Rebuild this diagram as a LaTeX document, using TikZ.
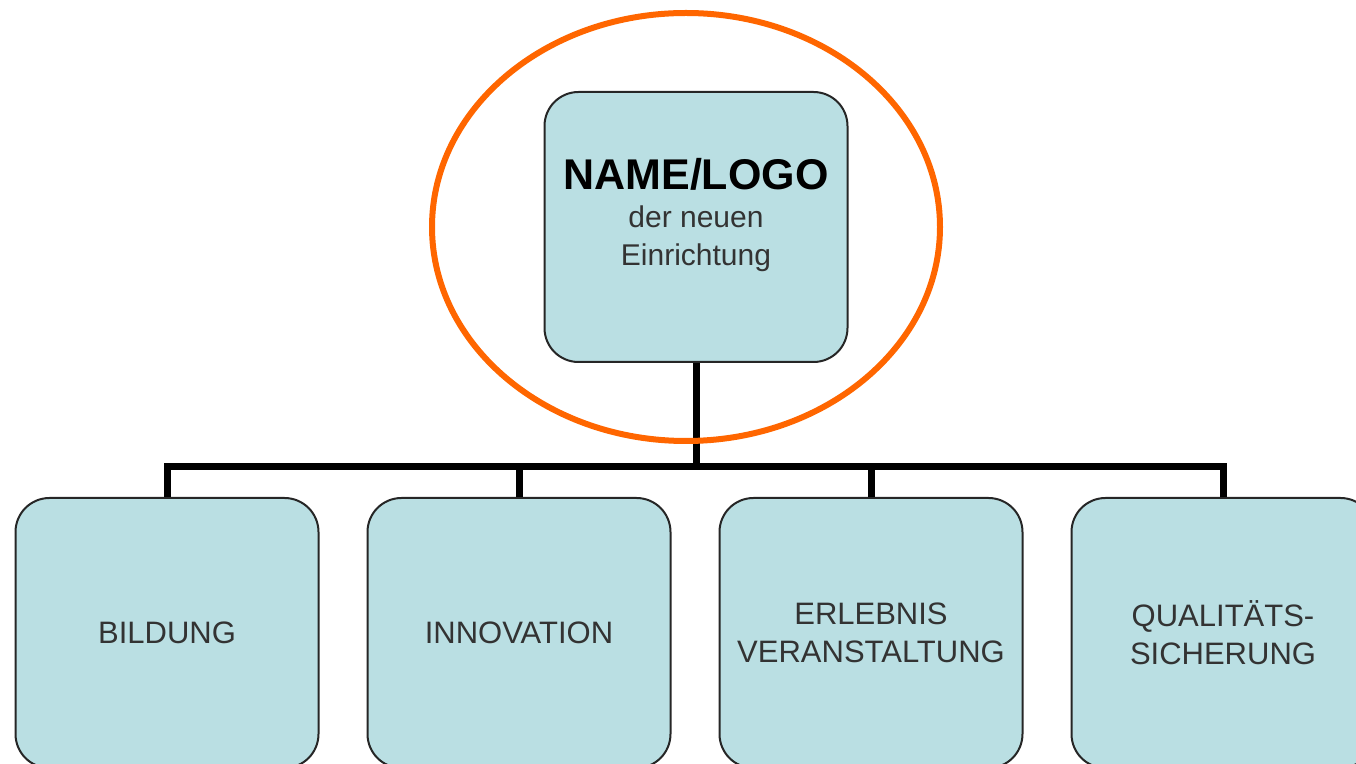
\documentclass[tikz,border=0pt]{standalone}
\usepackage{fontspec}
\setmainfont{Liberation Sans}
\definecolor{boxfill}{RGB}{186,223,227}
\definecolor{ringorange}{RGB}{255,102,0}
\begin{document}
\begin{tikzpicture}[x=0.5pt, y=-0.5pt,
        unit box/.style={rectangle, rounded corners=17pt, draw=black!85, line width=1pt, fill=boxfill,
            minimum width=151.5pt, minimum height=135pt, align=center, text=black!80,
            font=\fontsize{15.5}{19}\selectfont},
        connector/.style={line width=3.5pt, black},
        ring/.style={ringorange, line width=3pt}]
    \useasboundingbox (0,0) rectangle (1356,764);
    \clip (0,0) rectangle (1356,764);
    % head box
    \node[unit box, font=\fontsize{15}{19}\selectfont] (head) at (696,227)
        {{\fontsize{21.5}{19}\selectfont\bfseries\color{black} NAME/LOGO}\\der neuen\\Einrichtung\\[-4pt]\mbox{}};
    % units
    \node[unit box] (bildung) at (167,633) {BILDUNG};
    \node[unit box] (innovation) at (519,633) {INNOVATION};
    \node[unit box] (erlebnis) at (871,633) {ERLEBNIS\\VERANSTALTUNG};
    \node[unit box] (qualitaet) at (1223,633) {QUALITÄTS-\\SICHERUNG};
    \coordinate (bar) at (696,467);
    % connectors
    \draw[connector] (head.south) -- (head.south |- bar);
    \draw[connector] (bildung.north) -- (bildung.north |- bar) -- (qualitaet.north |- bar) -- (qualitaet.north);
    \draw[connector] (innovation.north) -- (innovation.north |- bar);
    \draw[connector] (erlebnis.north) -- (erlebnis.north |- bar);
    % ring round the head
    \draw[ring] (686,227) ellipse (254 and 214);
\end{tikzpicture}
\end{document}
